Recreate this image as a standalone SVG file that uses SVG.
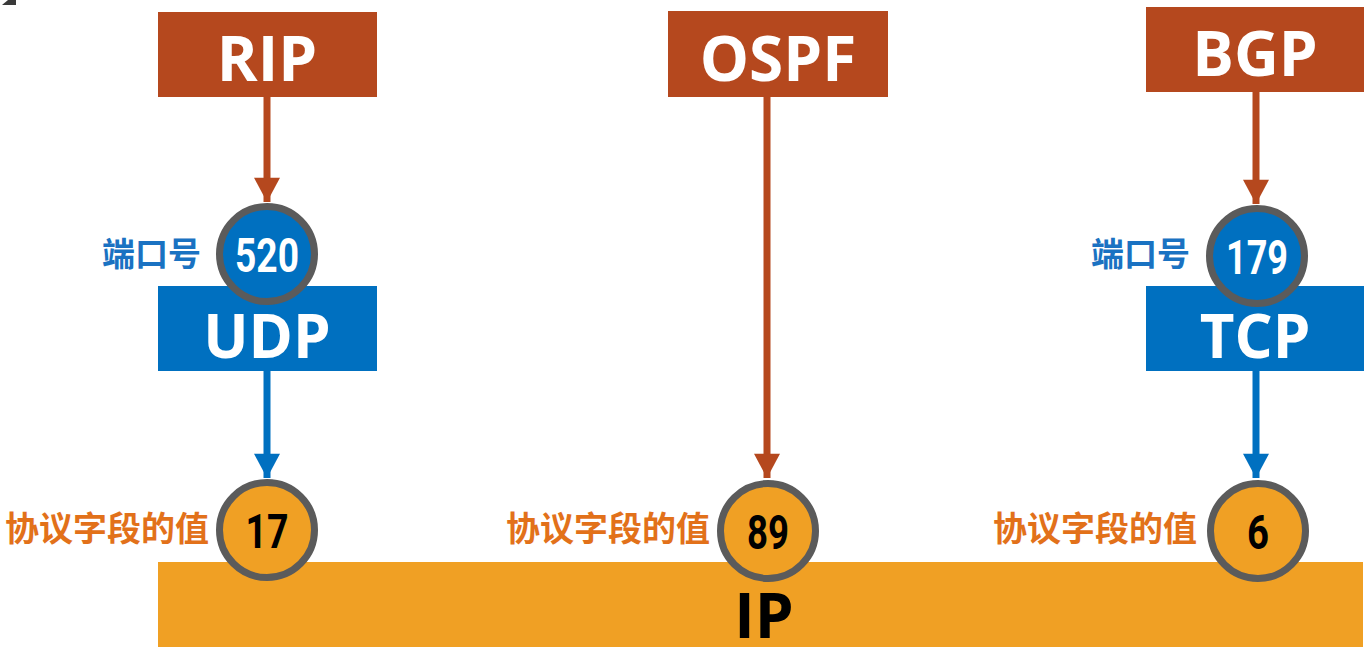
<svg xmlns="http://www.w3.org/2000/svg" width="1370" height="654" viewBox="0 0 1370 654">
<style>
.rust{fill:#B5481E}
.blue{fill:#0070C0}
.orange{fill:#F0A024}
.hd{font-family:"Open Sans","Liberation Sans",sans-serif;font-weight:700;text-anchor:middle}
.wt{fill:#FFFFFF}
.num{font-family:"Roboto","Liberation Sans",sans-serif;font-weight:700;text-anchor:middle;font-size:48px}
.ring{stroke:#5B5B5B;stroke-width:7}
.cb{fill:#0070C0}
.co{fill:#F0A024}
.lblb{font-family:"Noto Sans CJK SC",sans-serif;font-weight:700;font-size:33px;fill:#1A72C2;text-anchor:end}
.lblo{font-family:"Noto Sans CJK SC",sans-serif;font-weight:700;font-size:34px;fill:#E2711A;text-anchor:end}
.lr{stroke:#B5481E;stroke-width:7;fill:none}
.lbl{stroke:#0070C0;stroke-width:7;fill:none}
</style>
<defs>
<marker id="ar" markerUnits="userSpaceOnUse" markerWidth="28" markerHeight="26" refX="26" refY="14" orient="auto" viewBox="0 0 28 28">
<path d="M0,0 L26,14 L0,28 Z" fill="#B5481E"/>
</marker>
<marker id="ab" markerUnits="userSpaceOnUse" markerWidth="28" markerHeight="26" refX="26" refY="14" orient="auto" viewBox="0 0 28 28">
<path d="M0,0 L26,14 L0,28 Z" fill="#0070C0"/>
</marker>
</defs>
<rect width="1370" height="654" fill="#FFFFFF"/>
<polygon points="2,5 16,5 16,0 8,0" fill="#3A3A3A"/>

<g id="ip">
<rect class="orange" x="158" y="562" width="1205" height="85"/>
<text class="hd" x="764" y="638" font-size="62" fill="#000000">IP</text>
</g>

<g id="connectors">
<line class="lr" x1="267" y1="97" x2="267" y2="202" marker-end="url(#ar)"/>
<line class="lbl" x1="267" y1="371" x2="267" y2="478" marker-end="url(#ab)"/>
<line class="lr" x1="767" y1="97" x2="767" y2="478" marker-end="url(#ar)"/>
<line class="lr" x1="1256" y1="92" x2="1256" y2="204" marker-end="url(#ar)"/>
<line class="lbl" x1="1256" y1="371" x2="1256" y2="478" marker-end="url(#ab)"/>
</g>

<g id="rip">
<rect class="rust" x="158" y="12" width="219" height="85"/>
<text class="hd wt" x="267" y="81" font-size="62">RIP</text>
</g>
<g id="ospf">
<rect class="rust" x="668" y="11" width="220" height="86"/>
<text class="hd wt" x="778" y="81" font-size="62">OSPF</text>
</g>
<g id="bgp">
<rect class="rust" x="1146" y="7" width="218" height="85"/>
<text class="hd wt" x="1255" y="76" font-size="62">BGP</text>
</g>

<g id="udp">
<rect class="blue" x="158" y="286" width="219" height="85"/>
<text class="hd wt" x="267" y="358" font-size="60">UDP</text>
</g>
<g id="tcp">
<rect class="blue" x="1146" y="286" width="218" height="85"/>
<text class="hd wt" x="1255" y="358" font-size="60">TCP</text>
</g>

<g id="port520">
<circle class="cb ring" cx="267" cy="254" r="47.5"/>
<text class="num wt" x="267" y="272" textLength="64" lengthAdjust="spacingAndGlyphs">520</text>
<text class="lblb" x="201" y="266">端口号</text>
</g>
<g id="port179">
<circle class="cb ring" cx="1257" cy="256" r="47.5"/>
<text class="num wt" x="1257" y="274" textLength="62" lengthAdjust="spacingAndGlyphs">179</text>
<text class="lblb" x="1190" y="266">端口号</text>
</g>

<g id="proto17">
<circle class="co ring" cx="267" cy="530" r="47.5"/>
<text class="num" x="267" y="548" fill="#000000" textLength="43" lengthAdjust="spacingAndGlyphs">17</text>
<text class="lblo" x="209" y="541">协议字段的值</text>
</g>
<g id="proto89">
<circle class="co ring" cx="768" cy="531" r="47.5"/>
<text class="num" x="768" y="549" fill="#000000" textLength="42" lengthAdjust="spacingAndGlyphs">89</text>
<text class="lblo" x="710" y="541">协议字段的值</text>
</g>
<g id="proto6">
<circle class="co ring" cx="1258" cy="531" r="47.5"/>
<text class="num" x="1258" y="549" fill="#000000" textLength="22" lengthAdjust="spacingAndGlyphs">6</text>
<text class="lblo" x="1197" y="541">协议字段的值</text>
</g>
</svg>
